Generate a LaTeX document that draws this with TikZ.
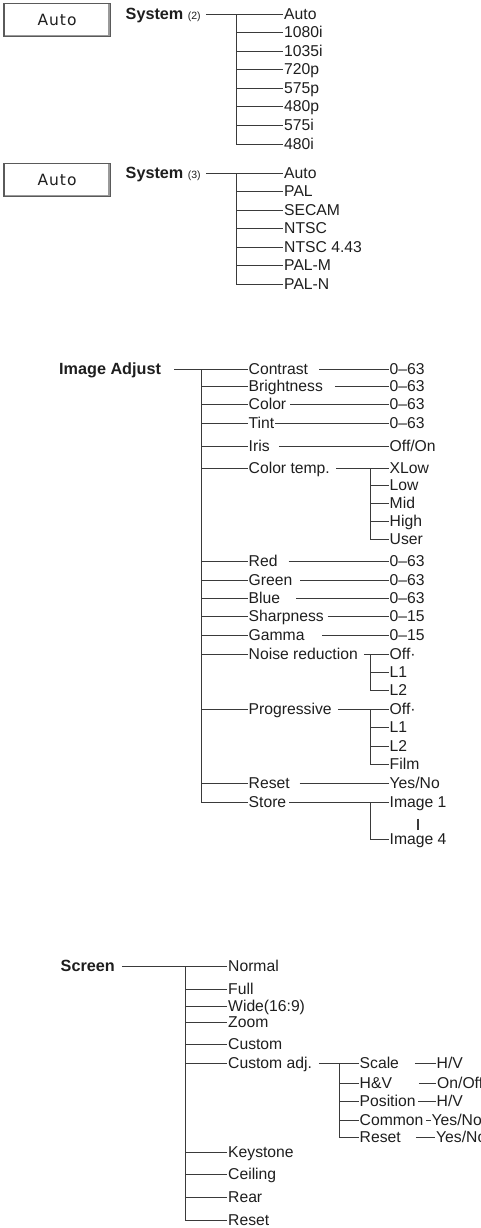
\documentclass[tikz,border=0pt]{standalone}
\usepackage{fontspec}
\setmainfont{Liberation Sans}
\newfontfamily\btnfamily{DejaVu Sans}
\definecolor{ink}{HTML}{1E1E1E}
\definecolor{wire}{HTML}{3A3A3A}
\definecolor{btnedge}{HTML}{5A5A5A}
\definecolor{btnshade}{HTML}{9A9A9A}
\newcommand\itemfnt{\fontsize{15.7}{18}\selectfont}
\newcommand\headfnt{\fontsize{16.2}{18}\selectfont\bfseries}
\newcommand\smallfnt{\fontsize{10.5}{12}\selectfont\mdseries}
\tikzset{
  lbl/.style={anchor=west, inner sep=1pt, text height=11.3pt, text depth=0.4pt, text=ink, font=\itemfnt},
  head/.style={lbl, font=\headfnt},
  wirel/.style={draw=wire, line width=1.2pt},
  btn/.style={draw=btnedge, line width=1.2pt, fill=white, minimum width=106pt, minimum height=33pt, inner sep=0pt, text=ink, font=\btnfamily\fontsize{15.5}{18}\selectfont},
  btnsh/.style={draw=btnshade, line width=1.5pt},
}
\begin{document}
\begin{tikzpicture}[x=1pt,y=-1pt]
\useasboundingbox (0,0) rectangle (480,1228);

% ---------- System (2) ----------
\node[btn] (b1) at (57,20) {A\kern1pt u\kern1pt t\kern1pt o};
\draw[btnsh] ([shift={(1.4pt,1.4pt)}]b1.south west) -- ([shift={(-1.4pt,1.4pt)}]b1.south east) -- ([shift={(-1.4pt,-1.4pt)}]b1.north east);
\node[head] (s2) at (124.5,14.5) {System {\smallfnt (2)}};
\foreach \n/\t/\y in {p1/Auto/14.5, p2/1080i/32.5, p3/1035i/51.5, p4/720p/69.5, p5/575p/88.5, p6/480p/106.5, p7/575i/125.5, p8/480i/144.5}
  \node[lbl] (\n) at (283,\y) {\t};
\coordinate (k2) at (236.5,0);
\draw[wirel] ([xshift=4pt]s2.east) -- (p1.west);
\draw[wirel] (k2 |- p1.west) |- (p8.west);
\foreach \n in {p2,p3,p4,p5,p6,p7}
  \draw[wirel] (k2 |- \n.west) -- (\n.west);

% ---------- System (3) ----------
\node[btn] (b2) at (57,179.8) {A\kern1pt u\kern1pt t\kern1pt o};
\draw[btnsh] ([shift={(1.4pt,1.4pt)}]b2.south west) -- ([shift={(-1.4pt,1.4pt)}]b2.south east) -- ([shift={(-1.4pt,-1.4pt)}]b2.north east);
\node[head] (s3) at (124.5,173.5) {System {\smallfnt (3)}};
\foreach \n/\t/\y in {q1/Auto/173.5, q2/PAL/191.5, q3/SECAM/210.5, q4/NTSC/228.5, q5/NTSC 4.43/247.5, q6/PAL-M/265.5, q7/PAL-N/284.5}
  \node[lbl] (\n) at (283,\y) {\t};
\coordinate (k3) at (236.5,0);
\draw[wirel] ([xshift=4pt]s3.east) -- (q1.west);
\draw[wirel] (k3 |- q1.west) |- (q7.west);
\foreach \n in {q2,q3,q4,q5,q6}
  \draw[wirel] (k3 |- \n.west) -- (\n.west);

% ---------- Image Adjust ----------
\node[head] (ia) at (58,369.5) {Image Adjust};
\foreach \n/\t/\y in {c1/Contrast/369.5, c2/Brightness/386.5, c3/Color/404.5, c4/Tint/423.5, c5/Iris/446.5, c6/Color temp./468.5, c7/Red/561.5, c8/Green/580.5, c9/Blue/598.5, c10/Sharpness/616.5, c11/Gamma/635.5, c12/Noise reduction/654.5, c13/Progressive/709.5, c14/Reset/783.5, c15/Store/802.5}
  \node[lbl] (\n) at (247.5,\y) {\t};
\foreach \n/\t/\y in {v1/0–63/369.5, v2/0–63/386.5, v3/0–63/404.5, v4/0–63/423.5, v5/{Off/On}/446.5, v7/0–63/561.5, v8/0–63/580.5, v9/0–63/598.5, v10/0–15/616.5, v11/0–15/635.5, v14/{Yes/No}/783.5}
  \node[lbl] (\n) at (388.5,\y) {\t};
\foreach \n/\t/\y in {t1/XLow/468.5, t2/Low/485.5, t3/Mid/503.5, t4/High/521.5, t5/User/539.5,
                      n1/Off·/654.5, n2/L1/672.5, n3/L2/690.5,
                      g1/Off·/709.5, g2/L1/727.5, g3/L2/746.5, g4/Film/764.5,
                      i1/Image 1/802.5, i4/Image 4/839.5}
  \node[lbl] (\n) at (388.5,\y) {\t};
\coordinate (kia) at (201.5,0);
\coordinate (kct) at (370.5,0);
\draw[wirel] ([xshift=12pt]ia.east) -- (c1.west);
\draw[wirel] (kia |- c1.west) |- (c15.west);
\foreach \n in {c2,c3,c4,c5,c6,c7,c8,c9,c10,c11,c12,c13,c14}
  \draw[wirel] (kia |- \n.west) -- (\n.west);
\foreach \a/\b/\g in {c1/v1/10pt, c2/v2/10.7pt, c3/v3/3pt, c4/v4/0pt, c5/v5/8pt, c7/v7/10pt, c8/v8/6.7pt, c9/v9/15pt, c10/v10/2.6pt, c11/v11/16.6pt, c14/v14/8.7pt}
  \draw[wirel] ([xshift=\g]\a.east) -- (\b.west);
% colour temp
\draw[wirel] ([xshift=5pt]c6.east) -- (t1.west);
\draw[wirel] (kct |- t1.west) |- (t5.west);
\foreach \n in {t2,t3,t4}
  \draw[wirel] (kct |- \n.west) -- (\n.west);
% noise reduction
\draw[wirel] ([xshift=5pt]c12.east) -- (n1.west);
\draw[wirel] (kct |- n1.west) |- (n3.west);
\draw[wirel] (kct |- n2.west) -- (n2.west);
% progressive
\draw[wirel] ([xshift=5pt]c13.east) -- (g1.west);
\draw[wirel] (kct |- g1.west) |- (g4.west);
\foreach \n in {g2,g3}
  \draw[wirel] (kct |- \n.west) -- (\n.west);
% store
\draw[wirel] ([xshift=1.7pt]c15.east) -- (i1.west);
\draw[wirel] (kct |- i1.west) |- (i4.west);
\draw[wirel] ([yshift=-9pt]i1.south) -- ([yshift=2.5pt]i4.north);

% ---------- Screen ----------
\node[head] (sc) at (59.5,966.5) {Screen};
\foreach \n/\t/\y in {r1/Normal/966.5, r2/Full/989.5, r3/Wide(16:9)/1006.5, r4/Zoom/1022.5, r5/Custom/1044.5, r6/Custom adj./1063.5, r7/Keystone/1152.5, r8/Ceiling/1174.5, r9/Rear/1197.5, r10/Reset/1220.5}
  \node[lbl] (\n) at (227,\y) {\t};
\foreach \n/\t/\y in {u1/Scale/1063.5, u2/H\&V/1083.5, u3/Position/1101.5, u4/Common/1120.5, u5/Reset/1137.5}
  \node[lbl] (\n) at (358.5,\y) {\t};
\node[lbl] (w1) at (435.5,1063.5) {H/V};
\node[lbl] (w2) at (436,1083.5) {On/Off};
\node[lbl] (w3) at (435.5,1101.5) {H/V};
\node[lbl] (w4) at (430.5,1120.5) {Yes/No};
\node[lbl] (w5) at (435,1137.5) {Yes/No};
\coordinate (ksc) at (185.5,0);
\coordinate (kca) at (339.5,0);
\draw[wirel] ([xshift=6pt]sc.east) -- (r1.west);
\draw[wirel] (ksc |- r1.west) |- (r10.west);
\foreach \n in {r2,r3,r4,r5,r6,r7,r8,r9}
  \draw[wirel] (ksc |- \n.west) -- (\n.west);
\draw[wirel] ([xshift=5.7pt]r6.east) -- (u1.west);
\draw[wirel] (kca |- u1.west) |- (u5.west);
\foreach \n in {u2,u3,u4}
  \draw[wirel] (kca |- \n.west) -- (\n.west);
\foreach \a/\b/\g in {u1/w1/14.7pt, u2/w2/25.6pt, u3/w3/1.3pt, u4/w4/1.4pt, u5/w5/14pt}
  \draw[wirel] ([xshift=\g]\a.east) -- (\b.west);
\end{tikzpicture}
\end{document}
